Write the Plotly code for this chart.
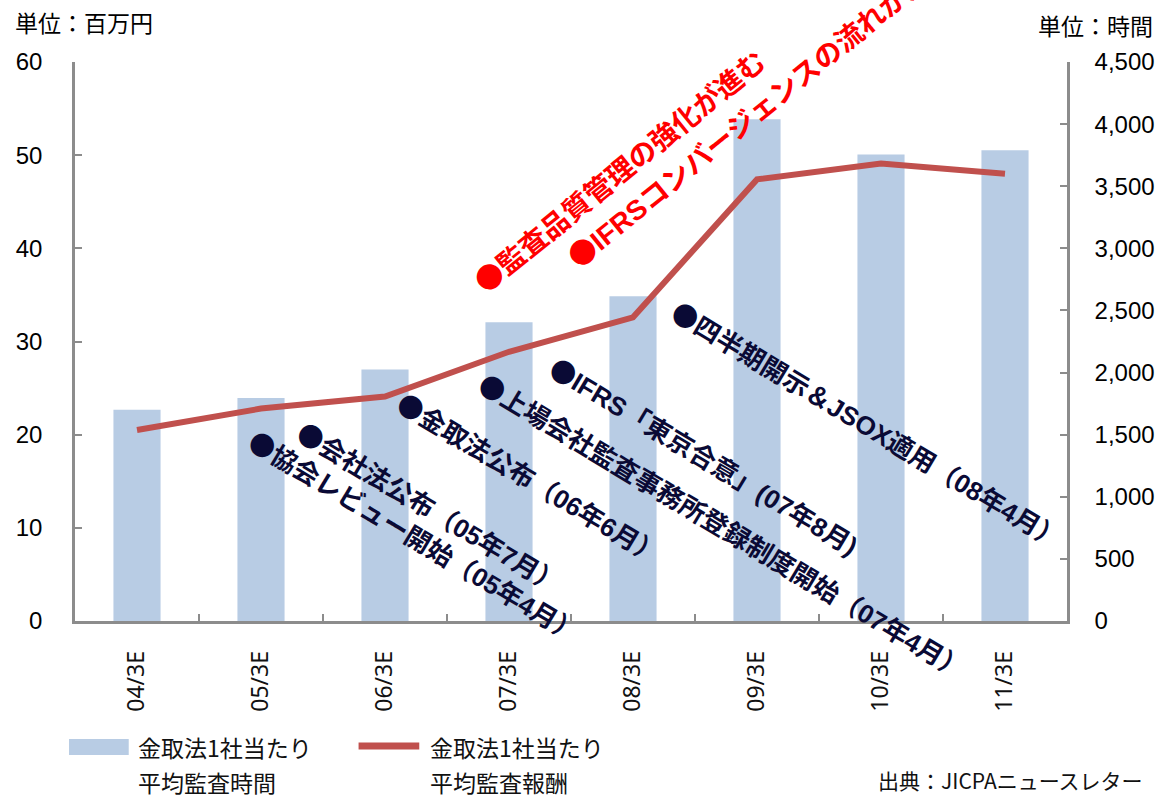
import plotly.graph_objects as go

categories = ["04/3E", "05/3E", "06/3E", "07/3E", "08/3E", "09/3E", "10/3E", "11/3E"]
audit_hours = [1700, 1795, 2025, 2405, 2615, 4040, 3755, 3790]      # 時間 (right axis)
audit_fee = [20.5, 22.8, 24.1, 28.9, 32.6, 47.4, 49.1, 48.0]        # 百万円 (left axis)

events_navy = [
    "協会レビュー開始（05年4月）",
    "会社法公布（05年7月）",
    "金取法公布（06年6月）",
    "上場会社監査事務所登録制度開始（07年4月）",
    "IFRS「東京合意」(07年8月)",
    "四半期開示＆JSOX適用（08年4月）",
]
events_red = [
    "監査品質管理の強化が進む",
    "IFRSコンバージェンスの流れが加速",
]
legend_rows = [["金取法1社当たり", "平均監査時間"], ["金取法1社当たり", "平均監査報酬"]]

W, H = 1167, 796
L, R, T, B = 75, 1072, 62, 621


def px(x, y):
    return (x - L) / (R - L), (B - y) / (B - T)


BAR_COLOR = "#B8CCE4"
LINE_COLOR = "#C0504D"
NAVY = "#0A0A35"
RED = "#FF0000"
AX = "#8C8C8C"
JP = "Noto Sans CJK JP"
DOT = "<span style=\"font-family:'Noto Sans CJK JP'\">●</span>"

fig = go.Figure()
fig.add_trace(go.Bar(x=categories, y=audit_hours, marker_color=BAR_COLOR,
                     marker_line_width=0, yaxis="y", name="平均監査時間"))
fig.add_trace(go.Scatter(x=categories, y=audit_fee, mode="lines",
                         line=dict(color=LINE_COLOR, width=6), yaxis="y2",
                         name="平均監査報酬"))

fig.update_layout(
    width=W, height=H,
    margin=dict(l=L, r=W - R, t=T, b=H - B),
    paper_bgcolor="white", plot_bgcolor="white",
    showlegend=False, bargap=0.62,
    xaxis=dict(type="category", tickson="boundaries", ticks="inside", ticklen=7,
               tickcolor=AX, tickwidth=2, showline=True, linecolor=AX, linewidth=2.5,
               tickangle=-90, tickfont=dict(family="Noto Sans", size=23, color="#111"),
               ticklabelstandoff=18, showgrid=False, zeroline=False),
    yaxis=dict(side="right", range=[0, 4500], dtick=500, tickformat=",",
               ticks="inside", ticklen=7, tickcolor=AX, tickwidth=2,
               showline=True, linecolor=AX, linewidth=2.5, showgrid=False, zeroline=False,
               tickfont=dict(family="Liberation Sans", size=24, color="#000"),
               ticklabelstandoff=20),
    yaxis2=dict(side="left", overlaying="y", range=[0, 60], dtick=10,
                ticks="inside", ticklen=7, tickcolor=AX, tickwidth=2,
                showline=True, linecolor=AX, linewidth=2.5, showgrid=False, zeroline=False,
                tickfont=dict(family="Liberation Sans", size=24, color="#000"),
                ticklabelstandoff=25),
)

annotations = []


def text_at(txt, x, y, xanchor, size, color="#111", family=JP, **kw):
    fx, fy = px(x, y)
    annotations.append(dict(text=txt, x=fx, y=fy, xref="paper", yref="paper",
                            xanchor=xanchor, yanchor="middle", showarrow=False,
                            font=dict(family=family, size=size, color=color), **kw))


# unit labels
text_at("単位：百万円", 13, 22, "left", 23, "#000")
text_at("単位：時間", 1160, 25, "right", 23, "#000")

# navy event labels (centers in pixels)
navy_centers = [(417, 535), (432, 506), (533, 477), (727, 525), (708, 455), (873, 424)]
for txt, (cx, cy) in zip(events_navy, navy_centers):
    text_at(f"<b>{DOT}{txt}</b>", cx, cy, "center", 26, NAVY,
            family="Liberation Sans, " + JP, textangle=31)

red_centers = [(622, 170), (762, 108)]
for txt, (cx, cy) in zip(events_red, red_centers):
    text_at(f"<b>{DOT}{txt}</b>", cx, cy, "center", 28, RED,
            family="Liberation Sans, " + JP, textangle=-39)

# legend (manual)
shapes = [
    dict(type="rect", xref="paper", yref="paper",
         x0=px(69, 0)[0], x1=px(129, 0)[0], y0=px(0, 755)[1], y1=px(0, 739)[1],
         fillcolor=BAR_COLOR, line_width=0),
    dict(type="line", xref="paper", yref="paper",
         x0=px(360, 0)[0], x1=px(421, 0)[0], y0=px(0, 746)[1], y1=px(0, 746)[1],
         line=dict(color=LINE_COLOR, width=7)),
]
for rows, lx in zip(legend_rows, [136, 430]):
    text_at(rows[0], lx, 747, "left", 23)
    text_at(rows[1], lx, 782, "left", 23)

text_at("出典：JICPAニュースレター", 1150, 780, "right", 21)

fig.update_layout(annotations=annotations, shapes=shapes)
fig.write_html("out.html", config={"displayModeBar": False},
               post_script="document.body.style.margin='0';")
